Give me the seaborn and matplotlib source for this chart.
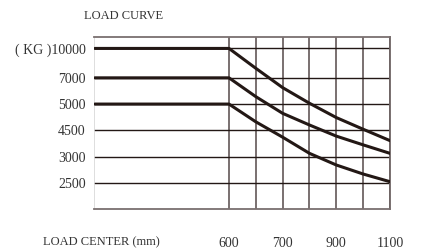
import pandas as pd
import matplotlib
matplotlib.use("Agg")
import matplotlib.pyplot as plt
import seaborn as sns

# grid columns: 0 = 600 mm ... 6 = right edge, left edge of plot at -5
x_cols = [-5, 0, 1, 2, 3, 4, 5, 6]
x_tick_pos = [0, 2, 4, 6]
x_tick_labels = ["600", "700", "900", "1100"]

# row levels of the horizontal grid lines
y_tick_pos = [6.06, 4.95, 3.96, 2.98, 1.97, 0.99]
y_tick_labels = ["( KG )10000", "7000", "5000", "4500", "3000", "2500"]

# the three load curves, in row units
curve_10000 = [6.06, 6.06, 5.31, 4.58, 3.99, 3.45, 3.01, 2.58]
curve_7000 = [4.95, 4.95, 4.24, 3.61, 3.17, 2.75, 2.42, 2.10]
curve_5000 = [3.96, 3.96, 3.29, 2.71, 2.10, 1.66, 1.32, 1.03]

df = pd.DataFrame({
    "x": x_cols * 3,
    "y": curve_10000 + curve_7000 + curve_5000,
    "curve": ["10000"] * 8 + ["7000"] * 8 + ["5000"] * 8,
})

sns.set_style("white")
plt.rcParams["font.family"] = ["Liberation Serif", "DejaVu Serif"]

ink = "#231815"
grey = "#6e6464"
txt = "#333333"

fig = plt.figure(figsize=(4.29, 2.52), dpi=100)
ax = fig.add_axes([94 / 429, 43 / 252, 296 / 429, 171.7 / 252])

sns.lineplot(data=df, x="x", y="y", units="curve", estimator=None,
             color=ink, lw=2.2, ax=ax, legend=False, sort=False, zorder=5)

ax.set_xlim(-5.03, 6)
ax.set_ylim(0, 6.48)

ax.set_xticks(x_tick_pos)
ax.set_xticklabels(x_tick_labels)
ax.set_xticks([1, 3, 5], minor=True)
ax.set_yticks(y_tick_pos)
ax.set_yticklabels(y_tick_labels)

for lbl in ax.get_xticklabels() + ax.get_yticklabels():
    lbl.set_fontsize(10)
    lbl.set_color(txt)

ax.tick_params(axis="both", which="both", length=0)
ax.tick_params(axis="y", pad=6)
ax.tick_params(axis="x", pad=20)

ax.grid(axis="y", color=ink, lw=1.0)
ax.grid(axis="x", which="both", color=grey, lw=1.3)
ax.xaxis.grid(True, which="minor", color=grey, lw=1.3)
ax.set_axisbelow(True)

ax.spines["left"].set_color("#d8d8d8")
ax.spines["left"].set_linewidth(0.6)
for s in ["top", "bottom"]:
    ax.spines[s].set_color("#7a7070")
    ax.spines[s].set_linewidth(1.3)
ax.spines["right"].set_color(grey)
ax.spines["right"].set_linewidth(1.3)

ax.set_xlabel("")
ax.set_ylabel("")

fig.text(124 / 429, 1 - 16 / 252, "LOAD CURVE", ha="center", va="center",
         fontsize=9, color=txt)
fig.text(43 / 429, 1 - 242 / 252, "LOAD CENTER (mm)", ha="left", va="center",
         fontsize=9, color=txt)

fig.savefig("out.png", dpi=100)
